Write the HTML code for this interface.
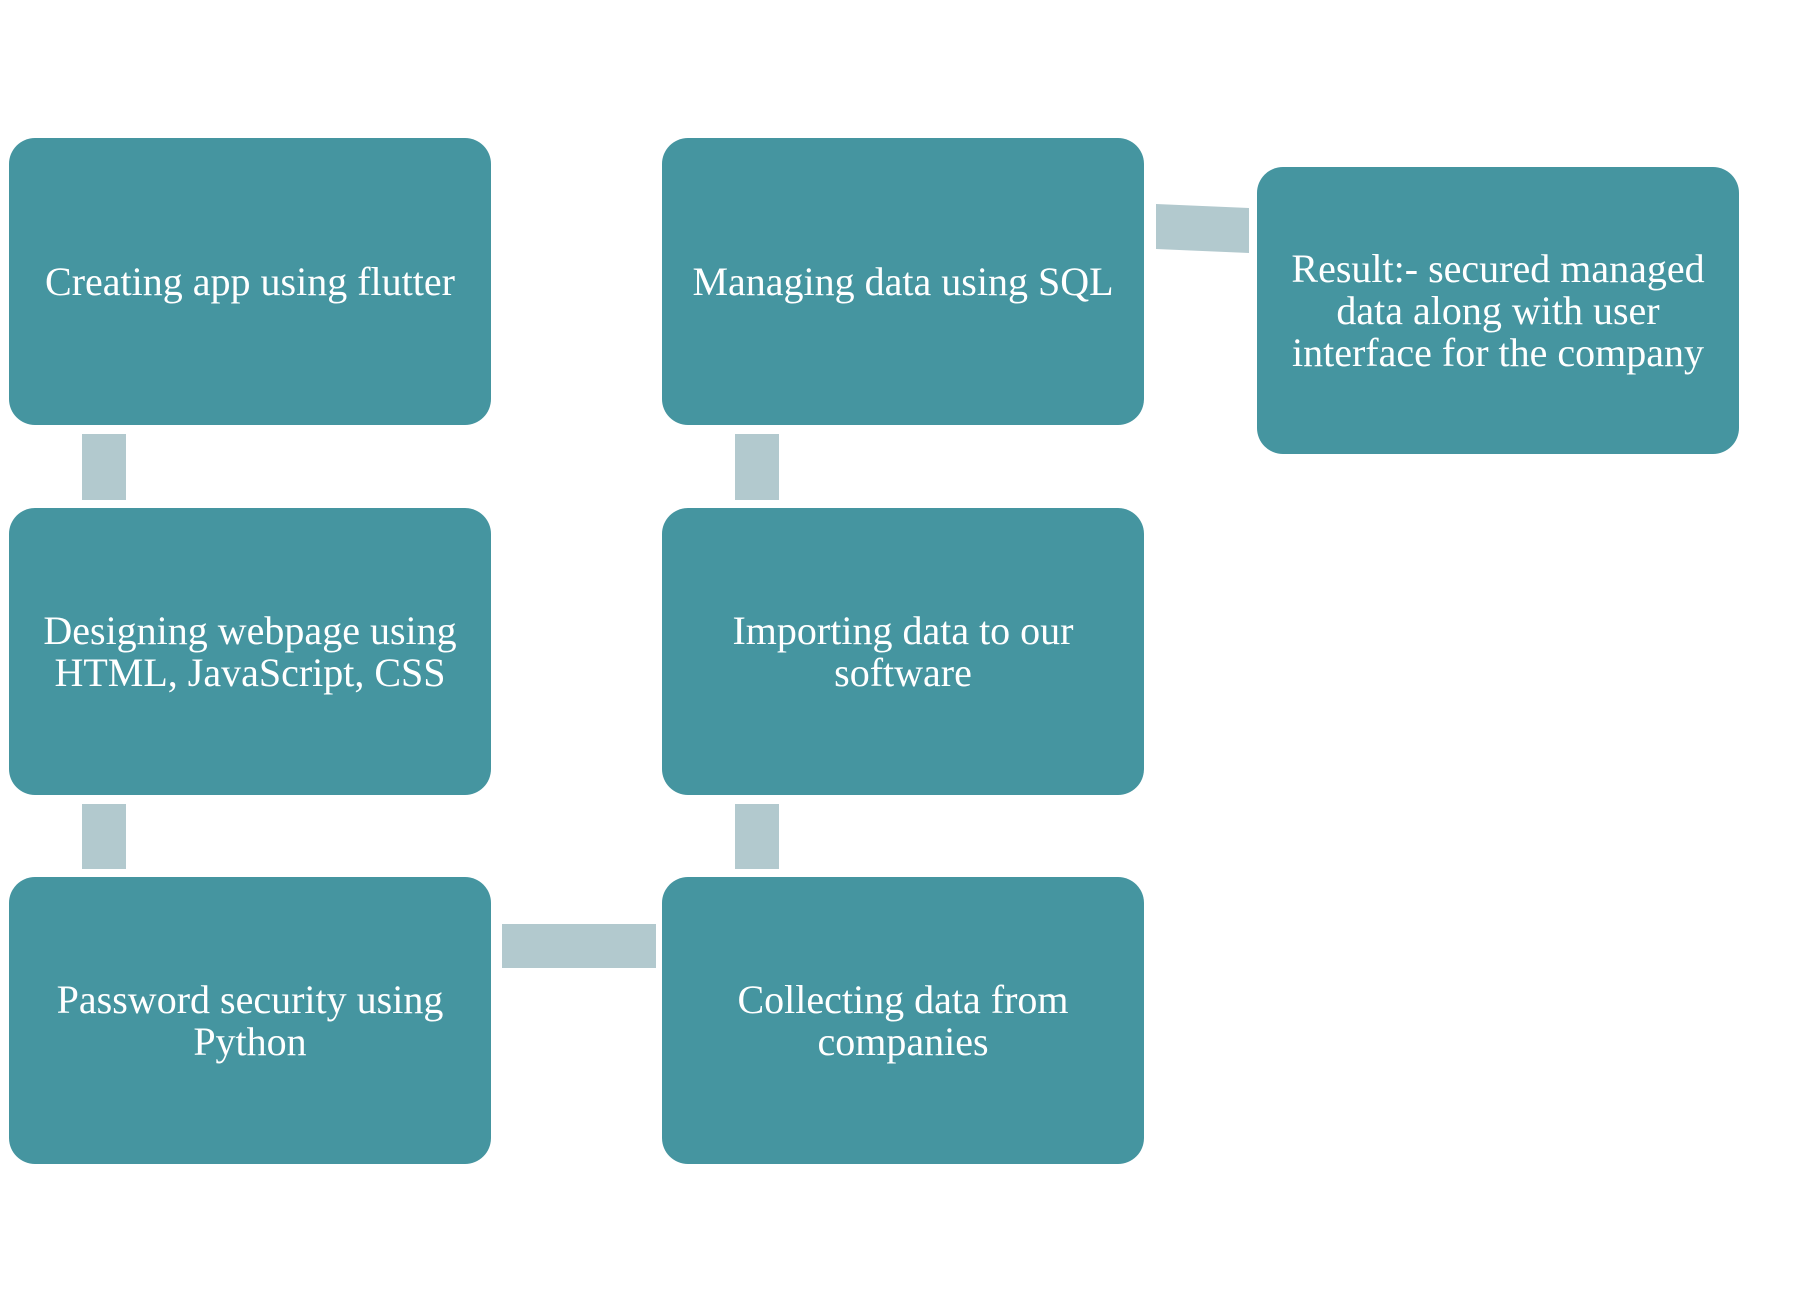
<!DOCTYPE html>
<html><head><style>
body{margin:0;width:1805px;height:1299px;background:#fff;position:relative;overflow:hidden;font-family:"Liberation Serif",serif}
.b{position:absolute;width:482px;height:287px;background:#4595a0;border-radius:26px;color:#fff;font-size:40px;line-height:42px;display:flex;align-items:center;justify-content:center;text-align:center;box-sizing:border-box;padding:0 16px}
.c{position:absolute;background:#b2c9ce}
</style></head><body>
<div class="b" style="left:9px;top:138px">Creating app using flutter</div>
<div class="b" style="left:9px;top:508px">Designing webpage using HTML, JavaScript, CSS</div>
<div class="b" style="left:9px;top:877px">Password security using Python</div>
<div class="b" style="left:662px;top:877px">Collecting data from companies</div>
<div class="b" style="left:662px;top:508px">Importing data to our software</div>
<div class="b" style="left:662px;top:138px">Managing data using SQL</div>
<div class="b" style="left:1257px;top:167px">Result:- secured managed data along with user interface for the company</div>
<div class="c" style="left:82px;top:434px;width:44px;height:66px"></div>
<div class="c" style="left:82px;top:804px;width:44px;height:65px"></div>
<div class="c" style="left:735px;top:434px;width:44px;height:66px"></div>
<div class="c" style="left:735px;top:804px;width:44px;height:65px"></div>
<div class="c" style="left:502px;top:924px;width:154px;height:44px"></div>
<svg style="position:absolute;left:0;top:0" width="1805" height="1299"><polygon points="1156,204 1249,208 1249,253 1156,249" fill="#b2c9ce"/></svg>
</body></html>
